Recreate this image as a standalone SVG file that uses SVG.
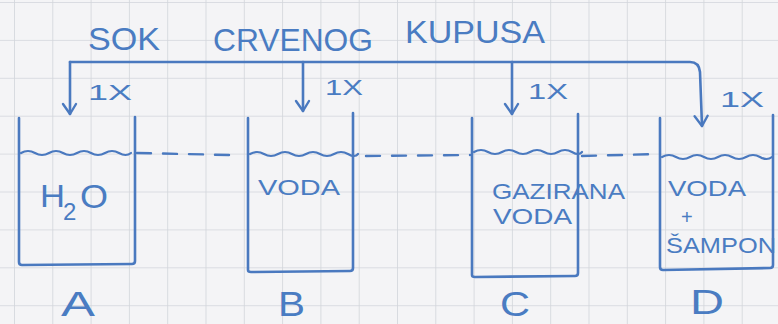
<svg xmlns="http://www.w3.org/2000/svg" width="778" height="324" viewBox="0 0 778 324">
  <defs>
    <!-- squared notebook paper -->
    <pattern id="grid" x="14" y="2" width="38.3" height="37.9" patternUnits="userSpaceOnUse">
      <path d="M0,0 V37.9 M0,0 H38.3" fill="none" stroke="#d2d5db" stroke-width="1.6"/>
    </pattern>
    <!-- open pen-drawn arrowhead, tip at the line end -->
    <marker id="arrow" viewBox="-12 -9 14 18" markerWidth="14" markerHeight="18" refX="0" refY="0" orient="auto" markerUnits="userSpaceOnUse">
      <path d="M-10,-6 L0,0 L-10,7" fill="none" stroke="#4a79bf" stroke-width="2.4" stroke-linecap="round" stroke-linejoin="round"/>
    </marker>
    <style>
      .ink { fill: none; stroke: #4a79bf; stroke-width: 2.6; stroke-linecap: round; stroke-linejoin: round; }
      .wave { fill: none; stroke: #4a79bf; stroke-width: 2.2; stroke-linecap: round; }
      .dash { fill: none; stroke: #4a79bf; stroke-width: 2.4; stroke-dasharray: 14 12; stroke-linecap: round; }
      .txt { font-family: "Liberation Sans", "DejaVu Sans", sans-serif; fill: #4a7cc2; }
      .big { font-size: 35px; }
      .mid { font-size: 22px; }
      .title { font-size: 32px; }
    </style>
  </defs>

  <rect width="778" height="324" fill="#f4f4f6"/>
  <rect width="778" height="324" fill="url(#grid)"/>

  <!-- title -->
  <g id="title">
    <text class="txt title" x="88" y="50" textLength="72" lengthAdjust="spacingAndGlyphs">SOK</text>
    <text class="txt title" x="213" y="51" textLength="160" lengthAdjust="spacingAndGlyphs">CRVENOG</text>
    <text class="txt title" x="405" y="43" textLength="140" lengthAdjust="spacingAndGlyphs">KUPUSA</text>
  </g>

  <!-- distribution bracket and arrows -->
  <g id="connectors">
    <path class="ink" d="M70,62 L690,62 Q699,62 700,72 L702,126" marker-end="url(#arrow)"/>
    <path class="ink" d="M70,62 L70,114" marker-end="url(#arrow)"/>
    <path class="ink" d="M303,62 L303,111" marker-end="url(#arrow)"/>
    <path class="ink" d="M512,62 L512,114" marker-end="url(#arrow)"/>
    <path class="dash" d="M137,153 L230,155"/>
    <path class="dash" d="M366,156 L470,155"/>
    <path class="dash" d="M582,156 L658,154"/>
    <text class="txt mid" x="88" y="100" textLength="44" lengthAdjust="spacingAndGlyphs">1X</text>
    <text class="txt mid" x="325" y="95" textLength="38" lengthAdjust="spacingAndGlyphs">1X</text>
    <text class="txt mid" x="528" y="99" textLength="40" lengthAdjust="spacingAndGlyphs">1X</text>
    <text class="txt mid" x="720" y="107" textLength="44" lengthAdjust="spacingAndGlyphs">1X</text>
  </g>

  <!-- beaker A -->
  <g id="beaker-a">
    <path class="ink" d="M19,118 L19,262 Q19,265 22,265 L132,264 Q135,264 135,261 L135,117"/>
    <path class="wave" d="M21,153 q7,-4 14,0 t14,0 t14,0 t14,0 t14,0 t14,0 t14,0 t12,0"/>
    <text class="txt" x="40" y="207" font-size="32" textLength="25" lengthAdjust="spacingAndGlyphs">H</text>
    <text class="txt" x="63" y="220" font-size="24">2</text>
    <text class="txt" x="80" y="208" font-size="34" textLength="28" lengthAdjust="spacingAndGlyphs">O</text>
    <text class="txt big" x="61" y="316" textLength="34" lengthAdjust="spacingAndGlyphs">A</text>
  </g>

  <!-- beaker B -->
  <g id="beaker-b">
    <path class="ink" d="M248,118 L248,270 Q248,272 251,272 L350,271 Q353,271 353,268 L353,113"/>
    <path class="wave" d="M250,154 q7,-4 14,0 t14,0 t14,0 t14,0 t14,0 t14,0 t14,0 t10,0"/>
    <text class="txt mid" x="258" y="195" textLength="82" lengthAdjust="spacingAndGlyphs">VODA</text>
    <text class="txt big" x="278" y="316" textLength="27" lengthAdjust="spacingAndGlyphs">B</text>
  </g>

  <!-- beaker C -->
  <g id="beaker-c">
    <path class="ink" d="M472,118 L472,275 Q472,277 475,277 L575,276 Q578,276 578,273 L578,114"/>
    <path class="wave" d="M474,152 q7,-4 14,0 t14,0 t14,0 t14,0 t14,0 t14,0 t14,0 t10,0"/>
    <text class="txt mid" x="492" y="199" textLength="133" lengthAdjust="spacingAndGlyphs">GAZIRANA</text>
    <text class="txt mid" x="493" y="224" textLength="79" lengthAdjust="spacingAndGlyphs">VODA</text>
    <text class="txt big" x="500" y="316" textLength="30" lengthAdjust="spacingAndGlyphs">C</text>
  </g>

  <!-- beaker D -->
  <g id="beaker-d">
    <path class="ink" d="M660,118 L660,267 Q660,270 663,270 L770,268 Q773,268 773,265 L773,115"/>
    <path class="wave" d="M662,157 q7,-4 14,0 t14,0 t14,0 t14,0 t14,0 t14,0 t14,0 t12,0"/>
    <text class="txt mid" x="668" y="196" textLength="78" lengthAdjust="spacingAndGlyphs">VODA</text>
    <text class="txt" x="681" y="224" font-size="20">+</text>
    <text class="txt mid" x="666" y="253" textLength="110" lengthAdjust="spacingAndGlyphs">ŠAMPON</text>
    <text class="txt big" x="690" y="314" textLength="34" lengthAdjust="spacingAndGlyphs">D</text>
  </g>
</svg>
